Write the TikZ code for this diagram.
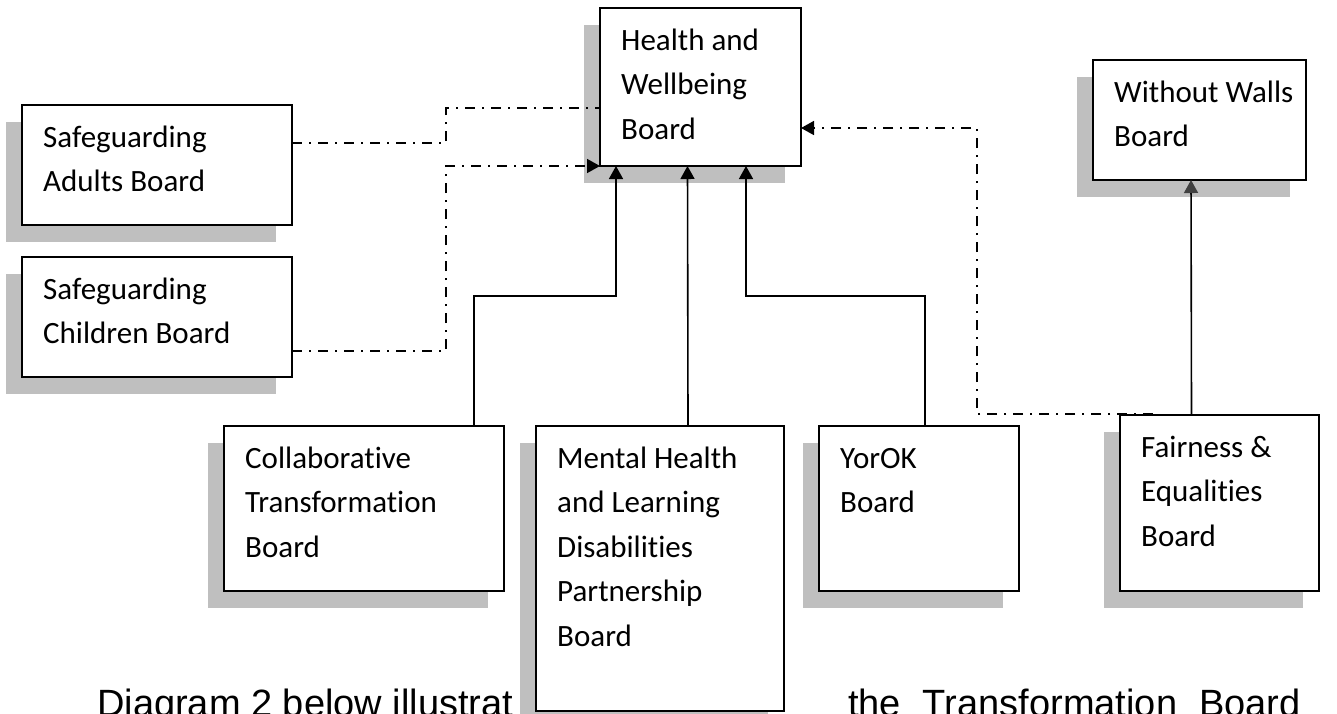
\documentclass[tikz,border=0pt]{standalone}
\usepackage{fontspec}
\setmainfont[Ligatures=NoCommon]{Carlito}
\newfontfamily\capfont{Liberation Sans}
\usetikzlibrary{positioning,calc,shadows,arrows.meta}
\definecolor{shadowgray}{RGB}{191,191,191}
\definecolor{tipgray}{RGB}{64,64,64}

\begin{document}
\begin{tikzpicture}[x=1pt,y=-1pt,
    board/.style={draw,line width=1.8pt,fill=white,inner sep=0pt,outer sep=0pt,anchor=north west,
      drop shadow={shadow xshift=-16pt,shadow yshift=-17pt,fill=shadowgray,opacity=1}},
    boardtext/.style={anchor=base west,inner sep=0pt,align=flush left,text width=#1,font=\fontsize{31}{44.5}\selectfont},
    caption/.style={anchor=base west,inner sep=0pt,font=\capfont\fontsize{38}{40}\selectfont},
    link/.style={line width=1.6pt,dash pattern=on 10pt off 7pt on 2pt off 7pt},
    feed/.style={line width=1.6pt},
    arrowed/.style={-{Triangle[length=13pt,width=14pt]}}]
  \useasboundingbox (0,0) rectangle (1337,713);
  \clip (0,0) rectangle (1337,713);
  \node[caption] (capleft) at (97,716) {Diagram 2 below illustrat};
  \node[caption] (capright) at (848,716) {\spaceskip=22pt\relax the Transformation Board};
  \foreach \n/\x/\y/\w/\h/\t in {hwb/600/8/201/158/{Health and\\Wellbeing\\Board},
      ww/1093/60/213/120/{Without Walls\\Board},
      sab/22/105/270/120/{Safeguarding\\Adults Board},
      scb/22/257/270/120/{Safeguarding\\Children Board},
      ctb/224/426/280/165/{Collaborative\\Transformation\\Board},
      mhb/536/426/248/285/{Mental Health\\and Learning\\Disabilities\\Partnership\\Board},
      yok/819/426/200/165/{YorOK\\Board},
      fair/1120/415/199/176/{Fairness \&\\Equalities\\Board}}
  {\node[board,minimum width=\w pt,minimum height=\h pt] (\n) at (\x,\y) {};
   \node[boardtext=\w pt] at ([xshift=21pt,yshift=-42pt]\n.north west) {\t};}
  \draw[link] ([yshift=22pt]sab.east) -- ++(154,0) |- ([yshift=-21pt]hwb.west);
  \draw[link,arrowed] ([yshift=-34pt]scb.east) -- ++(154,0) |- (hwb.south west);
  \draw[link,arrowed] ([xshift=33pt,yshift=1pt]fair.north west) -- ++(-176,0) |- ([yshift=-41pt]hwb.east);
  \draw[feed,arrowed] ([xshift=110pt]ctb.north) -- ++(0,-130) -| ([xshift=16pt]hwb.south west);
  \draw[feed,arrowed] ([xshift=28pt]mhb.north) -- ([xshift=-13pt]hwb.south);
  \draw[feed,arrowed] ([xshift=6pt]yok.north) -- ++(0,-130) -| ([xshift=-55pt]hwb.south east);
  \draw[feed,-{Triangle[length=13pt,width=14pt,color=tipgray]}] ([xshift=-28pt]fair.north) -- ([xshift=-8.5pt]ww.south);
\end{tikzpicture}
\end{document}
